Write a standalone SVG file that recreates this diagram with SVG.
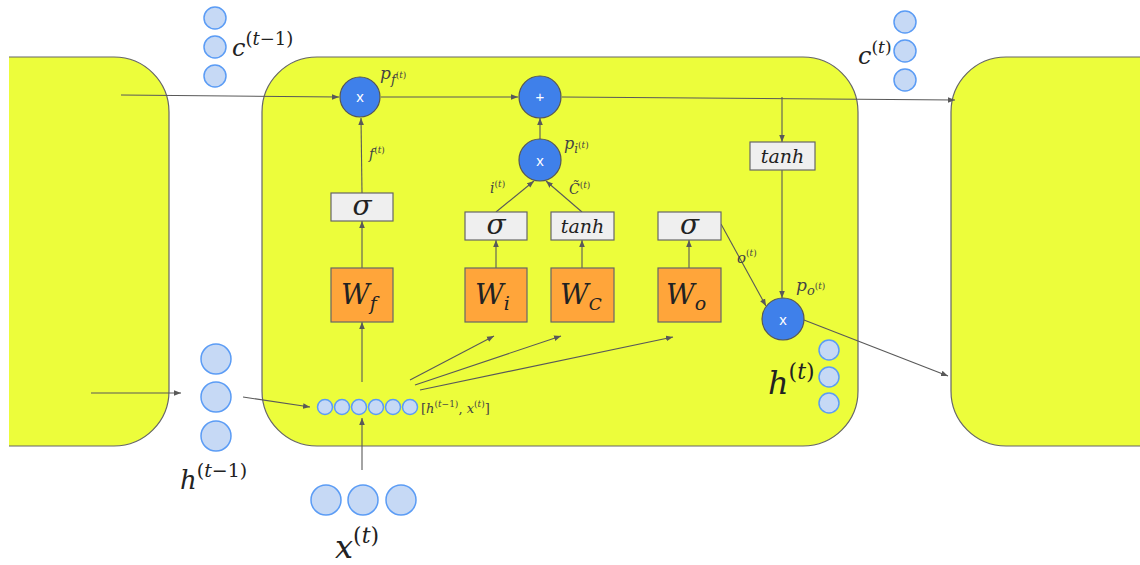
<svg xmlns="http://www.w3.org/2000/svg" width="1140" height="565" viewBox="0 0 1140 565">
<style>
.cell{fill:#ecfd3b;stroke:#666;stroke-width:1.2}
.edge{fill:none;stroke:#666;stroke-width:1.2}
.cn{fill:none;stroke:#595959;stroke-width:1.1}
.vec{fill:#c6d9f5;stroke:#5b9cf5;stroke-width:1.5}
.op{fill:#3f80ea;stroke:#555;stroke-width:1.2}
.opt{fill:#fff;font-family:"Liberation Sans",Arial,sans-serif;font-size:15px;text-anchor:middle}
.act{fill:#efefef;stroke:#666;stroke-width:1.2}
.w{fill:#ffa53a;stroke:#666;stroke-width:1.2}
.m{font-family:"DejaVu Serif","Liberation Serif",serif;font-style:italic;fill:#222}
.ml{font-family:"DejaVu Serif","Liberation Serif",serif;font-style:italic;fill:#444}
</style>
<defs>
<marker id="ah" viewBox="0 0 10 10" refX="10" refY="5" markerWidth="7" markerHeight="7" orient="auto" markerUnits="userSpaceOnUse">
<path d="M0,1 L10,5 L0,9 z" fill="#595959"/>
</marker>
</defs>
<rect width="1140" height="565" fill="#fff"/>

<g id="cell-prev">
<path d="M9,57 H114 A55,55 0 0 1 169,112 V391 A55,55 0 0 1 114,446 H9 Z" fill="#ecfd3b"/>
<path class="edge" d="M9,57 H114 A55,55 0 0 1 169,112 V391 A55,55 0 0 1 114,446 H9"/>
</g>
<g id="cell">
<rect class="cell" x="262" y="57" width="596" height="389" rx="55" ry="55"/>
</g>
<g id="cell-next">
<path d="M1140,57 H1006 A55,55 0 0 0 951,112 V391 A55,55 0 0 0 1006,446 H1140 Z" fill="#ecfd3b"/>
<path class="edge" d="M1140,57 H1006 A55,55 0 0 0 951,112 V391 A55,55 0 0 0 1006,446 H1140"/>
</g>

<g id="connectors">
<line class="cn" x1="121" y1="95" x2="339" y2="97" marker-end="url(#ah)"/>
<line class="cn" x1="381" y1="97" x2="518" y2="97" marker-end="url(#ah)"/>
<line class="cn" x1="562" y1="97" x2="955" y2="100" marker-end="url(#ah)"/>
<line class="cn" x1="782" y1="97" x2="782" y2="142" marker-end="url(#ah)"/>
<line class="cn" x1="782" y1="170" x2="782" y2="298" marker-end="url(#ah)"/>
<line class="cn" x1="804" y1="320" x2="948" y2="376" marker-end="url(#ah)"/>
<line class="cn" x1="540" y1="139" x2="540" y2="118" marker-end="url(#ah)"/>
<line class="cn" x1="362" y1="268" x2="362" y2="221" marker-end="url(#ah)"/>
<line class="cn" x1="362" y1="193" x2="361" y2="118" marker-end="url(#ah)"/>
<line class="cn" x1="496" y1="268" x2="496" y2="240" marker-end="url(#ah)"/>
<line class="cn" x1="582" y1="268" x2="582" y2="240" marker-end="url(#ah)"/>
<line class="cn" x1="689" y1="268" x2="689" y2="240" marker-end="url(#ah)"/>
<line class="cn" x1="496" y1="212" x2="534" y2="181" marker-end="url(#ah)"/>
<line class="cn" x1="582" y1="212" x2="546" y2="181" marker-end="url(#ah)"/>
<line class="cn" x1="721" y1="224" x2="766" y2="306" marker-end="url(#ah)"/>
<line class="cn" x1="362" y1="382" x2="362" y2="322" marker-end="url(#ah)"/>
<line class="cn" x1="362" y1="470" x2="362" y2="418" marker-end="url(#ah)"/>
<line class="cn" x1="410" y1="380" x2="494" y2="336" marker-end="url(#ah)"/>
<line class="cn" x1="415" y1="385" x2="561" y2="336" marker-end="url(#ah)"/>
<line class="cn" x1="420" y1="390" x2="673" y2="337" marker-end="url(#ah)"/>
<line class="cn" x1="243" y1="397" x2="310" y2="407" marker-end="url(#ah)"/>
<line class="cn" x1="91" y1="393" x2="181" y2="393" marker-end="url(#ah)"/>
</g>

<g id="c-prev">
<circle class="vec" cx="215" cy="18" r="11"/>
<circle class="vec" cx="215" cy="47" r="11"/>
<circle class="vec" cx="215" cy="76" r="11"/>
<text class="m" x="232" y="56" font-size="24">c<tspan font-size="18" dy="-11" font-style="normal">(</tspan><tspan font-size="18">t</tspan><tspan font-size="18" font-style="normal">−1)</tspan></text>
</g>

<g id="c-next">
<circle class="vec" cx="905" cy="22" r="11"/>
<circle class="vec" cx="905" cy="51" r="11"/>
<circle class="vec" cx="905" cy="80" r="11"/>
<text class="m" x="858" y="64" font-size="24">c<tspan font-size="17" dy="-11" font-style="normal">(</tspan><tspan font-size="17">t</tspan><tspan font-size="17" font-style="normal">)</tspan></text>
</g>

<g id="mul-f">
<circle class="op" cx="360" cy="97" r="20"/>
<text class="opt" x="360" y="102">x</text>
<text class="ml" x="380" y="79" font-size="17">p<tspan font-size="13" dy="5">f</tspan><tspan font-size="9" dy="-6" font-style="normal">(</tspan><tspan font-size="9">t</tspan><tspan font-size="9" font-style="normal">)</tspan></text>
</g>

<g id="add">
<circle class="op" cx="540" cy="97" r="21"/>
<text class="opt" x="540" y="102">+</text>
</g>

<g id="mul-i">
<circle class="op" cx="540" cy="160" r="21"/>
<text class="opt" x="540" y="166">x</text>
<text class="ml" x="564" y="149" font-size="16">p<tspan font-size="12" dy="4">i</tspan><tspan font-size="9" dy="-5" font-style="normal">(</tspan><tspan font-size="9">t</tspan><tspan font-size="9" font-style="normal">)</tspan></text>
</g>

<g id="mul-o">
<circle class="op" cx="783" cy="319" r="21"/>
<text class="opt" x="783" y="325">x</text>
<text class="ml" x="796" y="291" font-size="17">p<tspan font-size="13" dy="4">o</tspan><tspan font-size="9" dy="-6" font-style="normal">(</tspan><tspan font-size="9">t</tspan><tspan font-size="9" font-style="normal">)</tspan></text>
</g>

<g id="tanh-c">
<rect class="act" x="750" y="142" width="65" height="28"/>
<text class="m" x="782.5" y="163" font-size="19" text-anchor="middle">tanh</text>
</g>

<g id="sigma-f">
<rect class="act" x="331" y="193" width="62" height="28"/>
<text class="m" x="362" y="215" font-size="28" text-anchor="middle">σ</text>
<text class="ml" x="369" y="159" font-size="14">f<tspan font-size="9" dy="-6" font-style="normal">(</tspan><tspan font-size="9">t</tspan><tspan font-size="9" font-style="normal">)</tspan></text>
</g>
<g id="w-f">
<rect class="w" x="331" y="268" width="62" height="54"/>
<text class="m" x="341" y="304" font-size="28">W<tspan font-size="19" dy="6">f</tspan></text>
</g>

<g id="sigma-i">
<rect class="act" x="465" y="212" width="62" height="28"/>
<text class="m" x="496" y="234" font-size="28" text-anchor="middle">σ</text>
<text class="ml" x="490" y="193" font-size="14">i<tspan font-size="9" dy="-6" font-style="normal">(</tspan><tspan font-size="9">t</tspan><tspan font-size="9" font-style="normal">)</tspan></text>
</g>
<g id="w-i">
<rect class="w" x="465" y="268" width="62" height="54"/>
<text class="m" x="475" y="304" font-size="28">W<tspan font-size="19" dy="6">i</tspan></text>
</g>

<g id="tanh-cand">
<rect class="act" x="551" y="212" width="63" height="28"/>
<text class="m" x="582.5" y="233" font-size="19" text-anchor="middle">tanh</text>
<text class="ml" x="569" y="194" font-size="14">C̃<tspan font-size="9" dy="-6" font-style="normal">(</tspan><tspan font-size="9">t</tspan><tspan font-size="9" font-style="normal">)</tspan></text>
</g>
<g id="w-c">
<rect class="w" x="551" y="268" width="63" height="54"/>
<text class="m" x="560" y="304" font-size="28">W<tspan font-size="17" dy="6">C</tspan></text>
</g>

<g id="sigma-o">
<rect class="act" x="658" y="212" width="63" height="28"/>
<text class="m" x="689.5" y="234" font-size="28" text-anchor="middle">σ</text>
<text class="ml" x="737" y="263" font-size="15">o<tspan font-size="9" dy="-7" font-style="normal">(</tspan><tspan font-size="9">t</tspan><tspan font-size="9" font-style="normal">)</tspan></text>
</g>
<g id="w-o">
<rect class="w" x="658" y="268" width="63" height="54"/>
<text class="m" x="666" y="304" font-size="28">W<tspan font-size="19" dy="6">o</tspan></text>
</g>

<g id="concat">
<circle class="vec" cx="325" cy="407" r="7.5"/>
<circle class="vec" cx="342" cy="407" r="7.5"/>
<circle class="vec" cx="359" cy="407" r="7.5"/>
<circle class="vec" cx="376" cy="407" r="7.5"/>
<circle class="vec" cx="393" cy="407" r="7.5"/>
<circle class="vec" cx="410" cy="407" r="7.5"/>
<text class="ml" x="421" y="413" font-size="13"><tspan font-style="normal">[</tspan>h<tspan font-size="9" dy="-6" font-style="normal">(</tspan><tspan font-size="9">t</tspan><tspan font-size="9" font-style="normal">−1)</tspan><tspan dy="6" font-style="normal">, </tspan>x<tspan font-size="9" dy="-6" font-style="normal">(</tspan><tspan font-size="9">t</tspan><tspan font-size="9" font-style="normal">)</tspan><tspan dy="6" font-style="normal">]</tspan></text>
</g>

<g id="h-prev">
<circle class="vec" cx="216" cy="359" r="15"/>
<circle class="vec" cx="216" cy="397" r="15"/>
<circle class="vec" cx="216" cy="436" r="15"/>
<text class="m" x="180" y="489" font-size="26">h<tspan font-size="19" dy="-12" font-style="normal">(</tspan><tspan font-size="19">t</tspan><tspan font-size="19" font-style="normal">−1)</tspan></text>
</g>

<g id="x-t">
<circle class="vec" cx="326" cy="500" r="15"/>
<circle class="vec" cx="363" cy="500" r="15"/>
<circle class="vec" cx="401" cy="500" r="15"/>
<text class="m" x="335" y="558" font-size="32">x<tspan font-size="22" dy="-15" font-style="normal">(</tspan><tspan font-size="22">t</tspan><tspan font-size="22" font-style="normal">)</tspan></text>
</g>

<g id="h-t">
<circle class="vec" cx="829" cy="350" r="10"/>
<circle class="vec" cx="829" cy="377" r="10"/>
<circle class="vec" cx="829" cy="403" r="10"/>
<text class="m" x="768" y="394" font-size="32">h<tspan font-size="22" dy="-15" font-style="normal">(</tspan><tspan font-size="22">t</tspan><tspan font-size="22" font-style="normal">)</tspan></text>
</g>
</svg>
